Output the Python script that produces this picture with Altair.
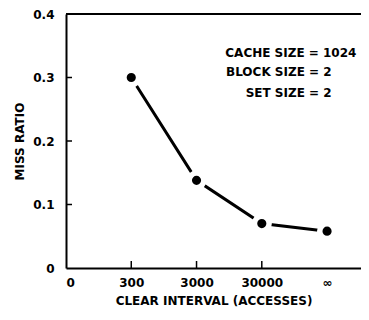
import altair as alt
import pandas as pd

# Data
interval_labels = ["0", "300", "3000", "30000", "\u221e"]
interval_index = [1, 2, 3, 4]
miss_ratio = [0.30, 0.138, 0.070, 0.058]

y_tick_values = [0.1, 0.2, 0.3]
x_tick_values = [1, 2, 3]

notes = ["CACHE SIZE = 1024", "BLOCK SIZE = 2", "SET SIZE = 2"]
note_x = [4.45, 4.07, 4.07]
note_y = [0.339, 0.308, 0.275]

W, H = 295, 254
FONT = "DejaVu Sans"

df = pd.DataFrame({"idx": interval_index, "miss": miss_ratio})
yt = pd.DataFrame({"v": y_tick_values})
xt = pd.DataFrame({"v": x_tick_values})
nt = pd.DataFrame({"t": notes, "x": note_x, "y": note_y})

label_arr = "[" + ",".join("'" + s + "'" for s in interval_labels) + "]"

xscale = alt.Scale(domain=[0, 4.52], nice=False, zero=False)
yscale = alt.Scale(domain=[0, 0.4], nice=False)

xaxis = alt.Axis(
    values=[0, 1, 2, 3, 4],
    labelExpr=label_arr + "[datum.value]",
    ticks=False,
    grid=False,
    labelPadding=9,
    title="CLEAR INTERVAL (ACCESSES)",
    titlePadding=7,
)
yaxis = alt.Axis(
    values=[0, 0.1, 0.2, 0.3, 0.4],
    labelExpr="datum.value == 0 ? '0' : format(datum.value, '.1f')",
    ticks=False,
    grid=False,
    labelPadding=12,
    title="MISS RATIO",
    titlePadding=6,
)

base = alt.Chart(df)

line = base.mark_line(color="black", strokeWidth=3).encode(
    x=alt.X("idx:Q", scale=xscale, axis=xaxis),
    y=alt.Y("miss:Q", scale=yscale, axis=yaxis),
)
dots = base.mark_circle(fill="black", stroke="white", strokeWidth=5.5, size=215, opacity=1,
                        fillOpacity=1, strokeOpacity=1).encode(
    x=alt.X("idx:Q", scale=xscale), y=alt.Y("miss:Q", scale=yscale)
)

yticks = alt.Chart(yt).mark_rule(color="black", strokeWidth=1.5).encode(
    y=alt.Y("v:Q", scale=yscale), x=alt.value(0), x2=alt.value(6)
)
xticks = alt.Chart(xt).mark_rule(color="black", strokeWidth=1.5).encode(
    x=alt.X("v:Q", scale=xscale), y=alt.value(H), y2=alt.value(H - 7)
)
top_border = alt.Chart(df).mark_rule(color="black", strokeWidth=2).encode(
    x=alt.value(0), x2=alt.value(W), y=alt.value(0)
)

text = alt.Chart(nt).mark_text(
    align="right", baseline="middle", font=FONT, fontWeight="bold", fontSize=12, color="black"
).encode(
    x=alt.X("x:Q", scale=xscale), y=alt.Y("y:Q", scale=yscale), text="t:N"
)

chart = (
    alt.layer(line, dots, yticks, xticks, top_border, text)
    .properties(
        width=W,
        height=H,
        autosize=alt.AutoSizeParams(type="none"),
        padding={"left": 58, "top": 6, "right": 0, "bottom": 44},
        background="white",
    )
    .configure_view(stroke=None)
    .configure_axis(
        domainColor="black",
        domainWidth=2,
        labelFont=FONT,
        labelFontWeight="bold",
        labelFontSize=12,
        labelColor="black",
        titleFont=FONT,
        titleFontWeight="bold",
        titleFontSize=12,
        titleColor="black",
    )
)

chart.save("out.html", embed_options={"renderer": "svg", "actions": False})
